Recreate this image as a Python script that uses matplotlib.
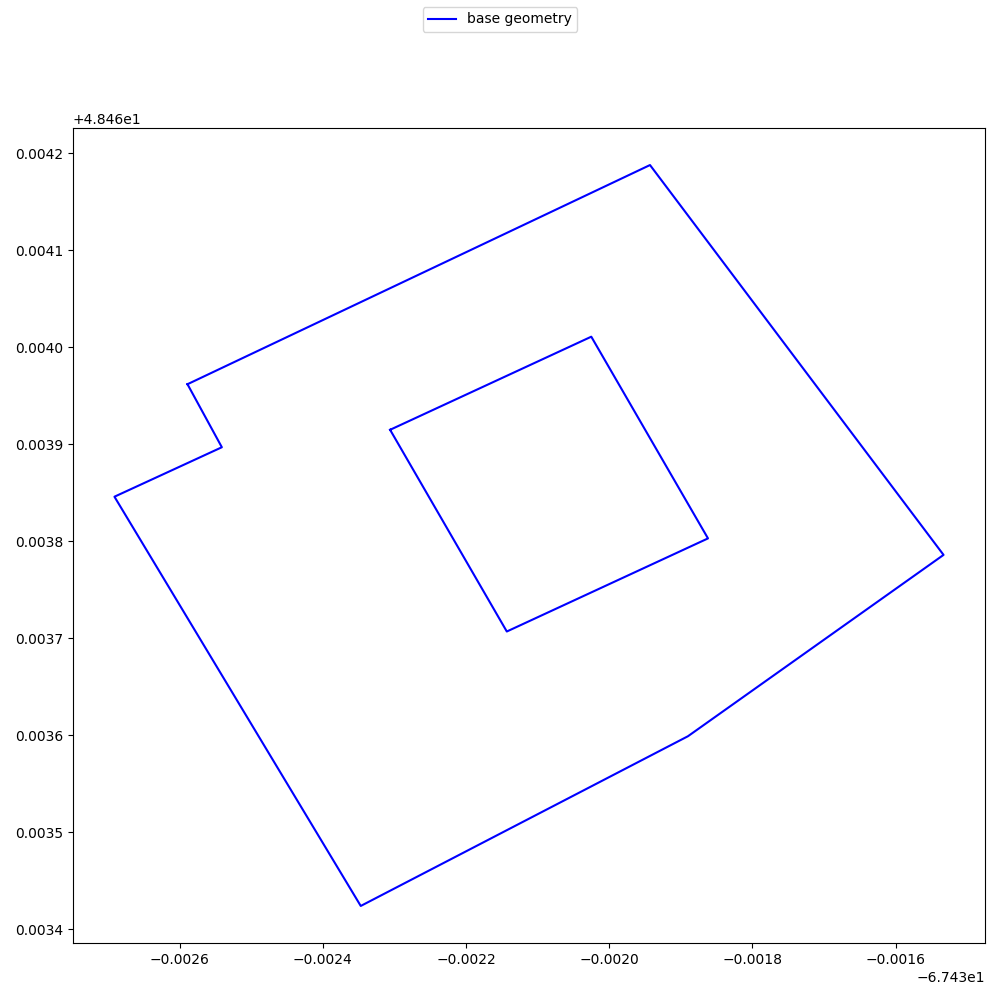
import matplotlib
matplotlib.use("Agg")
from matplotlib import pyplot as plt

# outer ring (lon, lat)
outer_lon = [-67.432589, -67.431943, -67.431533, -67.431890, -67.432347,
             -67.432691, -67.432541, -67.432589]
outer_lat = [48.463962, 48.464188, 48.463786, 48.463599, 48.463424,
             48.463846, 48.463897, 48.463962]

# inner ring (hole)
inner_lon = [-67.432306, -67.432025, -67.431862, -67.432143, -67.432306]
inner_lat = [48.463915, 48.464011, 48.463803, 48.463707, 48.463915]

fig = plt.figure(figsize=(10, 10), dpi=100)
ax = fig.add_axes([0.073, 0.057, 0.912, 0.815])

ax.plot(outer_lon, outer_lat, color='blue', label='base geometry')
ax.plot(inner_lon, inner_lat, color='blue')

fig.legend(loc='upper center')

plt.savefig('out.png')
